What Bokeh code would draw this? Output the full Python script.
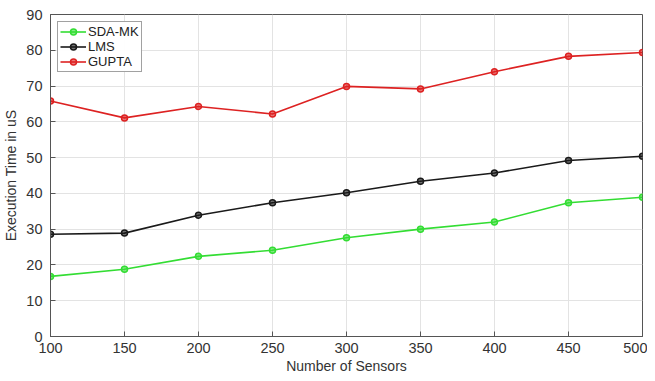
from bokeh.plotting import figure
from bokeh.models import Range1d, SingleIntervalTicker, Legend
from bokeh.embed import file_html
from bokeh.resources import INLINE

sensors = [100, 150, 200, 250, 300, 350, 400, 450, 500]
sda_mk = [16.8, 18.8, 22.4, 24.1, 27.6, 30.0, 32.0, 37.4, 38.9]
lms = [28.6, 28.9, 33.9, 37.4, 40.2, 43.4, 45.7, 49.2, 50.4]
gupta = [65.8, 61.1, 64.3, 62.2, 69.9, 69.2, 74.0, 78.3, 79.4]

FONT = "Liberation Sans"

p = figure(width=647, height=376, output_backend="svg", toolbar_location=None,
           x_range=Range1d(100, 500), y_range=Range1d(0, 90),
           min_border_left=42, min_border_right=5, min_border_top=14, min_border_bottom=10)

p.outline_line_color = "#555555"
p.outline_line_width = 1
p.background_fill_color = "white"

for ax in (p.xaxis[0], p.yaxis[0]):
    ax.axis_line_color = "#555555"
    ax.major_tick_in = 5
    ax.major_tick_out = 0
    ax.minor_tick_line_color = None
    ax.major_tick_line_color = "#555555"
    ax.major_label_text_font = FONT
    ax.major_label_text_font_size = "14.5px"
    ax.major_label_text_color = "#333333"
    ax.axis_label_text_font = FONT
    ax.axis_label_text_font_size = "14px"
    ax.axis_label_text_font_style = "normal"
    ax.axis_label_text_color = "#333333"

p.xaxis.ticker = SingleIntervalTicker(interval=50)
p.yaxis.ticker = SingleIntervalTicker(interval=10)
p.xaxis.axis_label = "Number of Sensors"
p.yaxis.axis_label = "Execution Time in uS"
p.xaxis.major_label_standoff = 2
p.xaxis.axis_label_standoff = 2
p.yaxis.major_label_standoff = 4
p.yaxis.axis_label_standoff = 4

p.xgrid.grid_line_color = "#e3e3e3"
p.ygrid.grid_line_color = "#e3e3e3"

series = [("SDA-MK", sda_mk, "#33dd33"), ("LMS", lms, "#1a1a1a"), ("GUPTA", gupta, "#dd2222")]
items = []
for name, vals, col in series:
    l = p.line(sensors, vals, line_color=col, line_width=1.6)
    s = p.scatter(sensors, vals, size=6, line_color=col, fill_color=col, fill_alpha=0.6, line_width=1.5)
    items.append((name, [l, s]))

legend = Legend(items=items, location="top_left")
legend.label_text_font = FONT
legend.label_text_font_size = "13px"
legend.label_text_color = "#222222"
legend.border_line_color = "#444444"
legend.border_line_width = 1
legend.padding = 2
legend.spacing = 0
legend.margin = 7
legend.glyph_width = 26
legend.glyph_height = 15
legend.label_height = 15
legend.label_standoff = 2
p.add_layout(legend)

open("out.html", "w").write(file_html(p, INLINE))
